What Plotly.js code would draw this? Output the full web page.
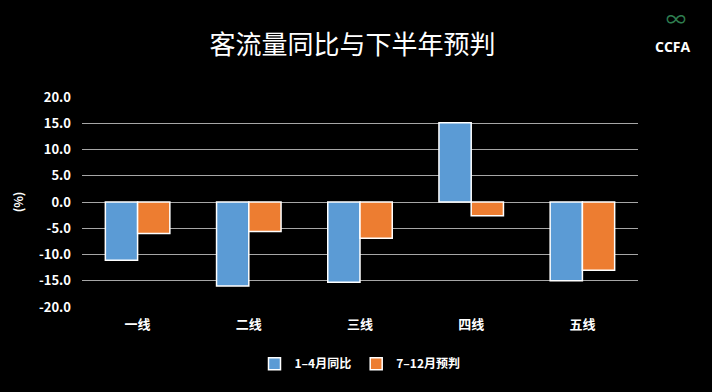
<!DOCTYPE html>
<html><head><meta charset="utf-8">
<script src="https://cdn.plot.ly/plotly-3.0.1.min.js"></script>
<style>html,body{margin:0;padding:0;background:#000;}#c{width:712px;height:392px;}</style>
</head><body><div id="c"></div>
<script>
const categories = ["一线", "二线", "三线", "四线", "五线"];
const seriesNames = ["1–4月同比", "7–12月预判"];
const yoyJanApr = [-11.1, -16.0, -15.3, 15.1, -15.0];
const forecastJulDec = [-6.0, -5.6, -6.9, -2.6, -13.0];
const yTicks = [-20, -15, -10, -5, 0, 5, 10, 15, 20];
const yTickText = yTicks.map(v => v.toFixed(1));

const font = "'Noto Sans CJK SC', 'Noto Sans', sans-serif";
const traces = [
  {type: "bar", name: seriesNames[0], x: categories, y: yoyJanApr,
   marker: {color: "#5b9bd5", line: {color: "#ffffff", width: 1.5}}},
  {type: "bar", name: seriesNames[1], x: categories, y: forecastJulDec,
   marker: {color: "#ed7d31", line: {color: "#ffffff", width: 1.5}}}
];
const layout = {
  width: 712, height: 392,
  paper_bgcolor: "#000", plot_bgcolor: "#000",
  font: {family: font, color: "#ffffff", size: 13},
  margin: {l: 82, r: 74, t: 97, b: 85},
  title: {text: "客流量同比与下半年预判", x: 0.495, xanchor: "center", y: 0.885, yanchor: "middle",
          font: {family: font, size: 26, color: "#ffffff"}},
  barmode: "group", bargap: 0.42, bargroupgap: 0,
  xaxis: {showgrid: false, zeroline: false, showline: false, ticks: "", ticklabelstandoff: 8,
          tickfont: {family: font, size: 13, color: "#ffffff", weight: "bold"}},
  yaxis: {range: [-20, 20], tickvals: yTicks, ticktext: yTickText,
          showgrid: true, gridcolor: "#a6a6a6", gridwidth: 1, zeroline: false,
          showline: false, ticks: "", ticklabelstandoff: 10,
          tickfont: {family: font, size: 13, color: "#ffffff", weight: "bold"},
          title: {text: "(%)", standoff: 12, font: {family: font, size: 12, color: "#ffffff", weight: "bold"}}},
  showlegend: true,
  legend: {orientation: "h", x: 0.5, xanchor: "center", y: -0.27, yanchor: "middle",
           font: {family: font, size: 12, color: "#ffffff", weight: "bold"}, bgcolor: "rgba(0,0,0,0)"},
  annotations: [
    {text: "CCFA", xref: "paper", yref: "paper", x: 1.063, y: 1.24, xanchor: "center", yanchor: "middle",
     showarrow: false, font: {family: "'Open Sans', sans-serif", size: 14, color: "#ffffff", weight: "bold"}},
    {text: "∞", xref: "paper", yref: "paper", x: 1.068, y: 1.375, xanchor: "center", yanchor: "middle",
     showarrow: false, font: {family: font, size: 20, color: "#2e7d4f"}}
  ]
};
Plotly.newPlot("c", traces, layout, {displayModeBar: false, staticPlot: true});
</script></body></html>
